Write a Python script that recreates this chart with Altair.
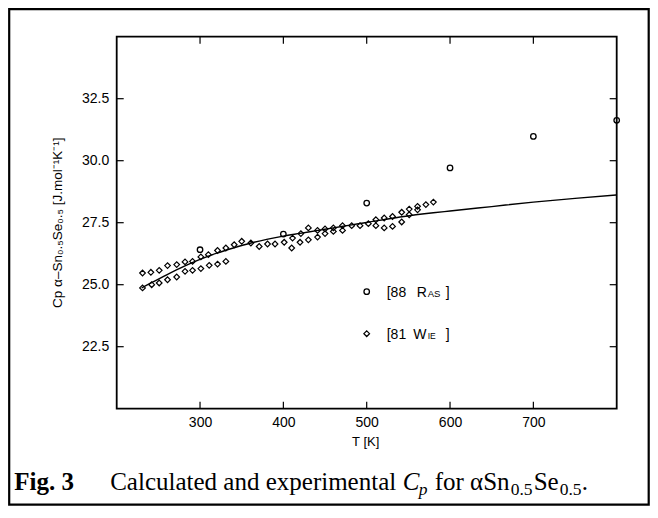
import altair as alt
import pandas as pd

# ---- data ----
calc_T = [230, 240, 260, 280, 300, 320, 340, 360, 380, 400, 420, 440, 460, 480, 500,
          540, 580, 600, 650, 700, 750, 800]
calc_Cp = [24.87, 25.05, 25.40, 25.73, 26.02, 26.27, 26.48, 26.67, 26.83, 26.96, 27.07,
           27.18, 27.29, 27.40, 27.51, 27.73, 27.90, 27.97, 28.15, 28.33, 28.48, 28.62]

ras_T = [300, 400, 500, 600, 700, 800]
ras_Cp = [26.41, 27.04, 28.29, 29.71, 30.98, 31.63]

wie_T = [231, 241, 251, 261, 272, 282, 291, 301, 310, 321, 331, 341, 350,
         361, 371, 381, 390, 401, 410, 411, 420, 421, 430, 430,
         231, 242, 251, 261, 272, 282, 291, 301, 311, 321, 331,
         441, 441, 450, 450, 460, 460, 471, 471, 482, 492, 502, 511, 511,
         521, 521, 531, 531, 542, 542, 551, 551, 561, 561, 571, 580]
wie_Cp = [25.47, 25.50, 25.58, 25.77, 25.81, 25.92, 25.94, 26.12, 26.21, 26.38, 26.48, 26.61, 26.75,
          26.68, 26.54, 26.64, 26.64, 26.71, 26.48, 26.88, 26.71, 27.06, 26.81, 27.29,
          24.87, 25.00, 25.07, 25.20, 25.31, 25.54, 25.58, 25.65, 25.78, 25.83, 25.94,
          27.19, 26.92, 27.25, 27.06, 27.29, 27.15, 27.38, 27.19, 27.38, 27.38, 27.46, 27.62, 27.38,
          27.69, 27.29, 27.75, 27.35, 27.92, 27.53, 28.05, 27.82, 28.16, 28.02, 28.23, 28.33]

x_ticks = [300, 400, 500, 600, 700]
y_ticks = [22.5, 25.0, 27.5, 30.0, 32.5]

x_domain = [200, 800]
y_domain = [20, 35]

W, H = 500, 372
SANS = "Liberation Sans"
SERIF = "Liberation Serif"

calc_df = pd.DataFrame({"T": calc_T, "Cp": calc_Cp})
ras_df = pd.DataFrame({"T": ras_T, "Cp": ras_Cp})
wie_df = pd.DataFrame({"T": wie_T, "Cp": wie_Cp})
xt_df = pd.DataFrame({"T": x_ticks})
yt_df = pd.DataFrame({"Cp": y_ticks})
one = pd.DataFrame({"a": [0]})

xs = alt.Scale(domain=x_domain, nice=False, zero=False)
ys = alt.Scale(domain=y_domain, nice=False, zero=False)
xax = alt.Axis(values=x_ticks, format="d", ticks=False, domain=False, grid=False, title=None,
               labelFont=SANS, labelFontSize=14, labelColor="black", labelPadding=7)
yax = alt.Axis(values=y_ticks, format=".1f", ticks=False, domain=False, grid=False, title=None,
               labelFont=SANS, labelFontSize=14, labelColor="black", labelPadding=8)
X = alt.X("T:Q", scale=xs, axis=xax)
Y = alt.Y("Cp:Q", scale=ys, axis=yax)

line = alt.Chart(calc_df).mark_line(color="black", strokeWidth=1.4, interpolate="monotone").encode(
    x=X, y=Y)

ras = alt.Chart(ras_df).mark_point(shape="circle", filled=False, color="black", size=30,
                                   strokeWidth=1.3, opacity=1).encode(x=X, y=Y)

wie = alt.Chart(wie_df).mark_point(shape="diamond", filled=False, color="black", size=32,
                                   strokeWidth=1.2, opacity=1).encode(x=X, y=Y)

# inward ticks on all four sides
tk = 7
left_t = alt.Chart(yt_df).mark_rule(color="black", strokeWidth=1.2).encode(
    y=Y, x=alt.value(0), x2=alt.value(tk))
right_t = alt.Chart(yt_df).mark_rule(color="black", strokeWidth=1.2).encode(
    y=Y, x=alt.value(W - tk), x2=alt.value(W))
bot_t = alt.Chart(xt_df).mark_rule(color="black", strokeWidth=1.2).encode(
    x=X, y=alt.value(H - tk), y2=alt.value(H))
top_t = alt.Chart(xt_df).mark_rule(color="black", strokeWidth=1.2).encode(
    x=X, y=alt.value(0), y2=alt.value(tk))


def txt(s, x, y, size=14, font=SANS, weight="normal", style="normal", angle=0, align="left",
        baseline="middle"):
    return alt.Chart(one).mark_text(text=s, font=font, fontSize=size, fontWeight=weight,
                                    fontStyle=style, angle=angle, align=align, baseline=baseline,
                                    color="black").encode(x=alt.value(x), y=alt.value(y))


# axis titles
ytitle = txt("Cp α–Sn₀.₅Se₀.₅  [J.mol⁻¹K⁻¹]", -59, 186, size=13.5, angle=270, align="center")
xtitle = txt("T [K]", 249, 405, size=13, align="center")

# legend
leg_c = alt.Chart(one).mark_point(shape="circle", filled=False, color="black", size=30,
                                  strokeWidth=1.3, opacity=1).encode(x=alt.value(250), y=alt.value(255))
leg_d = alt.Chart(one).mark_point(shape="diamond", filled=False, color="black", size=32,
                                  strokeWidth=1.2, opacity=1).encode(x=alt.value(250), y=alt.value(297))
legend_txt = [
    txt("[88", 270, 256, size=14), txt("R", 300, 256, size=14), txt("AS", 311, 257, size=9.5),
    txt("]", 329, 256, size=14),
    txt("[81", 270, 298, size=14), txt("W", 296.5, 298, size=14), txt("IE", 311, 299, size=8.5),
    txt("]", 329, 298, size=14),
]

# outer figure frame
outer = alt.Chart(one).mark_rect(filled=False, stroke="black", strokeWidth=2.2).encode(
    x=alt.value(-107.5), x2=alt.value(532), y=alt.value(-27.5), y2=alt.value(468))

# caption
cy = 453
cap = [
    txt("Fig. 3", -102.5, cy, size=25, font=SERIF, weight="bold", baseline="alphabetic"),
    txt("Calculated and experimental", -6.5, cy, size=25, font=SERIF, baseline="alphabetic"),
    txt("C", 286, cy, size=25, font=SERIF, style="italic", baseline="alphabetic"),
    txt("p", 302, cy + 5, size=17.5, font=SERIF, style="italic", baseline="alphabetic"),
    txt("for αSn", 318, cy, size=25, font=SERIF, baseline="alphabetic"),
    txt("0.5", 394, cy + 5, size=17.5, font=SERIF, baseline="alphabetic"),
    txt("Se", 417, cy, size=25, font=SERIF, baseline="alphabetic"),
    txt("0.5", 443, cy + 5, size=17.5, font=SERIF, baseline="alphabetic"),
    txt(".", 465, cy, size=25, font=SERIF, baseline="alphabetic"),
]

chart = alt.layer(
    outer, line, wie, ras, left_t, right_t, bot_t, top_t, ytitle, xtitle, leg_c, leg_d,
    *legend_txt, *cap
).properties(
    width=W, height=H,
    autosize=alt.AutoSizeParams(type="none"),
    padding={"left": 108.7, "top": 28.7, "right": 33.3, "bottom": 101.3},
).configure(
    background="white",
    view=alt.ViewConfig(stroke="black", strokeWidth=1.8),
)

chart.save("out.html", embed_options={"renderer": "svg", "actions": False})
